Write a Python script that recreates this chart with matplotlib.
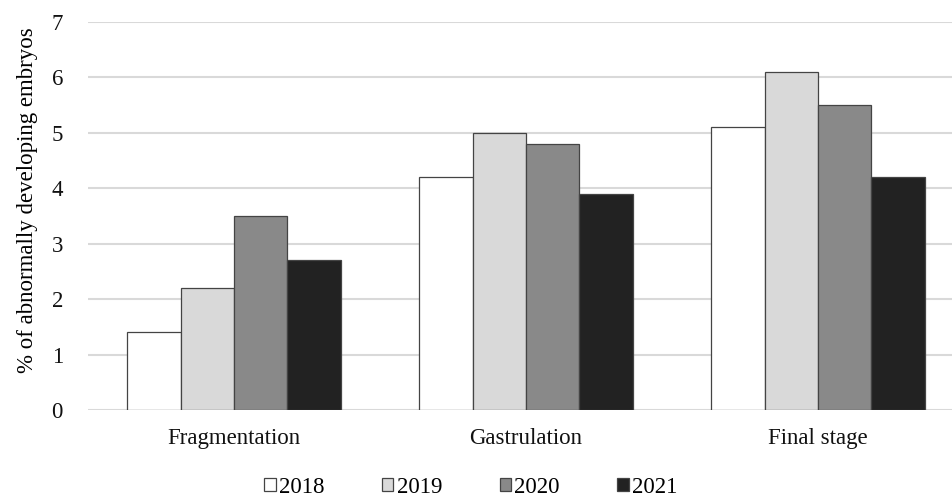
import matplotlib.pyplot as plt
import numpy as np

plt.rcParams['font.family'] = ['Liberation Serif', 'DejaVu Serif']

stages = ["Fragmentation", "Gastrulation", "Final stage"]
years = ["2018", "2019", "2020", "2021"]
y2018 = [1.4, 4.2, 5.1]
y2019 = [2.2, 5.0, 6.1]
y2020 = [3.5, 4.8, 5.5]
y2021 = [2.7, 3.9, 4.2]
colors = ["#ffffff", "#d9d9d9", "#898989", "#222222"]

fig = plt.figure(figsize=(9.52, 4.99), dpi=100)
ax = fig.add_axes([88/952, 89/499, 876/952, 388/499])

x = np.arange(len(stages))
w = 0.73 / 4
for i, vals in enumerate([y2018, y2019, y2020, y2021]):
    ax.bar(x + (i - 1.5) * w, vals, w, color=colors[i], edgecolor="#444444",
           linewidth=0.9, label=years[i], zorder=3)

ax.set_xlim(-0.5, 2.5)
ax.set_ylim(0, 7)
ax.set_yticks(range(0, 8))
ax.set_xticks(x)
ax.set_xticklabels(stages)
ax.yaxis.grid(True, color="#d9d9d9", linewidth=1.5, zorder=0)
for s in ax.spines.values():
    s.set_visible(False)
ax.tick_params(axis="both", length=0, labelsize=16.5, colors="#111111")
ax.tick_params(axis="y", pad=18)
ax.tick_params(axis="x", pad=13)
ax.set_ylabel("% of abnormally developing embryos", fontsize=16.5)
ax.yaxis.set_label_coords(-0.057, 0.541)

ax.legend(loc="center", bbox_to_anchor=(0.437, -0.2), ncol=4, frameon=False,
          fontsize=16.5, handlelength=0.5, handleheight=0.5, handletextpad=0.15,
          columnspacing=2.5)

fig.savefig("out.png", dpi=100)
